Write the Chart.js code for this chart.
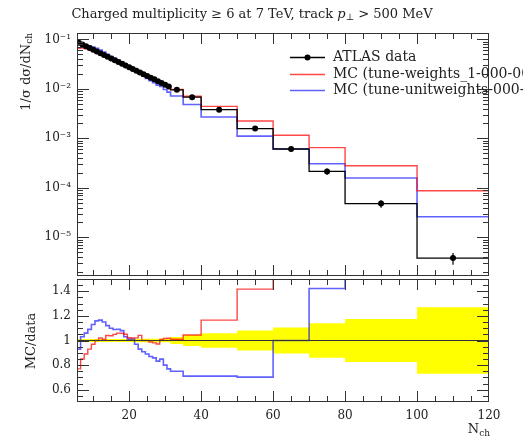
<!DOCTYPE html>
<html><head><meta charset="utf-8">
<script src="https://cdn.jsdelivr.net/npm/chart.js@4"></script>
<style>
html,body{margin:0;padding:0;background:#fff;width:523px;height:440px;overflow:hidden}
canvas{position:absolute;left:0}
#ca{top:0}
#cb{top:278px}
</style></head><body>
<canvas id="ca" width="523" height="280"></canvas>
<canvas id="cb" width="523" height="162"></canvas>
<script>
// ---- data ----
const binEdges = [5.5,6.5,7.5,8.5,9.5,10.5,11.5,12.5,13.5,14.5,15.5,16.5,17.5,18.5,19.5,20.5,21.5,22.5,23.5,24.5,25.5,26.5,27.5,28.5,29.5,30.5,31.5,35,40,50,60,70,80,100,120];
const atlasData = [0.0859,0.0792,0.0730,0.0673,0.0620,0.0571,0.0526,0.0485,0.0447,0.0412,0.0380,0.0350,0.0323,0.0298,0.0275,0.0253,0.0233,0.0215,0.0198,0.0183,0.0169,0.0156,0.0143,0.0132,0.0122,0.0112,0.0096,0.0068,0.0038,0.00158,0.00061,0.000215,0.000048,0.0000038];
const atlasRelErr = [0.012,0.012,0.012,0.012,0.012,0.012,0.012,0.012,0.012,0.012,0.012,0.012,0.012,0.012,0.012,0.015,0.015,0.015,0.015,0.015,0.015,0.015,0.015,0.015,0.015,0.015,0.028,0.045,0.058,0.082,0.105,0.14,0.175,0.27];
const mcWeights = [0.0661,0.0673,0.0650,0.0626,0.0601,0.0571,0.0537,0.0490,0.0465,0.0428,0.0399,0.0371,0.0342,0.0313,0.0281,0.0258,0.0238,0.0224,0.0198,0.0183,0.0167,0.0153,0.0139,0.0133,0.0124,0.0114,0.0097,0.0071,0.00443,0.00224,0.00116,0.00065,0.00028,0.000087];
const mcUnitWeights = [0.0799,0.0816,0.0774,0.0734,0.0701,0.0662,0.0613,0.0558,0.0501,0.0453,0.0414,0.0382,0.0349,0.0307,0.0278,0.0256,0.0226,0.0200,0.0180,0.0163,0.0147,0.0134,0.0119,0.0112,0.00976,0.00862,0.0072,0.00483,0.00270,0.00111,0.00061,0.000306,0.000158,0.000026];
const xTickLabels = [20,40,60,80,100,120];
const yMainTicks = [1e-5,1e-4,1e-3,1e-2,1e-1];
const yRatioTicks = [0.6,0.8,1,1.2,1.4];
const seriesNames = ['ATLAS data','MC (tune-weights_1-000-000)','MC (tune-unitweights-000-000)'];

// ---- helpers ----
const FONT = "'DejaVu Serif', 'Liberation Serif', serif";
const INK = '#222';
const RED = 'rgba(255,0,0,0.72)';
const BLUE = 'rgba(0,0,255,0.62)';
function stepPts(vals){
  const p = vals.map((v,i)=>({x:binEdges[i], y:v}));
  p.push({x:binEdges[binEdges.length-1], y:vals[vals.length-1]});
  return p;
}
const centers = atlasData.map((v,i)=>({x:(binEdges[i]+binEdges[i+1])/2, y:v}));
const sup = {'-':'\u207B','0':'\u2070','1':'\u00B9','2':'\u00B2','3':'\u00B3','4':'\u2074','5':'\u2075','6':'\u2076','7':'\u2077','8':'\u2078','9':'\u2079'};
function powLabel(v){ const e = Math.round(Math.log10(v)); return '10' + String(e).split('').map(c=>sup[c]).join(''); }
function noPad(s){ s.paddingTop=0; s.paddingBottom=0; s.paddingLeft=0; s.paddingRight=0; }

function xTickSets(){
  const maj=[], min=[];
  for(let v=10; v<120; v+=5){ (v%20===0?maj:min).push(v); }
  return {maj, min};
}
function drawFrameAndTicks(chart, yMaj, yMin, topTicks, bottomTicks){
  const ctx = chart.ctx, a = chart.chartArea, xs = chart.scales.x, ys = chart.scales.y;
  ctx.save();
  ctx.strokeStyle = '#333'; ctx.lineWidth = 1;
  ctx.strokeRect(a.left+0.5, a.top+0.5, a.right-a.left-1, a.bottom-a.top-1);
  ctx.beginPath();
  const {maj, min} = xTickSets();
  const xt = (v,len)=>{ const px = Math.round(xs.getPixelForValue(v))+0.5;
    if(topTicks){ctx.moveTo(px,a.top); ctx.lineTo(px,a.top+len);}
    if(bottomTicks){ctx.moveTo(px,a.bottom); ctx.lineTo(px,a.bottom-len);} };
  maj.forEach(v=>xt(v,11)); min.forEach(v=>xt(v,6));
  const yt = (v,len)=>{ const py = Math.round(ys.getPixelForValue(v))+0.5;
    if(py<a.top||py>a.bottom) return;
    ctx.moveTo(a.left,py); ctx.lineTo(a.left+len,py);
    ctx.moveTo(a.right,py); ctx.lineTo(a.right-len,py); };
  yMaj.forEach(v=>yt(v,12)); yMin.forEach(v=>yt(v,6));
  ctx.stroke();
  ctx.restore();
}

// ---- top panel ----
const topPlugin = {
  id:'topDecor',
  afterDatasetsDraw(chart){
    const ctx = chart.ctx, xs = chart.scales.x, ys = chart.scales.y;
    ctx.save(); ctx.strokeStyle='#000'; ctx.lineWidth=1.2; ctx.beginPath();
    atlasData.forEach((v,i)=>{
      const px = xs.getPixelForValue(centers[i].x);
      ctx.moveTo(px, ys.getPixelForValue(v*(1+atlasRelErr[i])));
      ctx.lineTo(px, ys.getPixelForValue(v*(1-atlasRelErr[i])));
    });
    ctx.stroke(); ctx.restore();
  },
  afterDraw(chart){
    const ctx = chart.ctx;
    const minor=[]; for(let d=-6; d<=-1; d++){ for(let k=2;k<=9;k++) minor.push(k*Math.pow(10,d)); }
    const major=[]; for(let d=-6; d<=-1; d++) major.push(Math.pow(10,d));
    drawFrameAndTicks(chart, major, minor, true, true);
    ctx.save();
    ctx.fillStyle = INK; ctx.textBaseline='middle';
    const parts = [['Charged multiplicity \u2265 6 at 7 TeV, track ', '13px '+FONT, 0],
                   ['p', 'italic 13px '+FONT, 0], ['\u22A5', '9px '+FONT, 3], [' > 500 MeV', '13px '+FONT, 0]];
    let w=0; parts.forEach(p=>{ctx.font=p[1]; w+=ctx.measureText(p[0]).width;});
    let x = 252 - w/2;
    parts.forEach(p=>{ctx.font=p[1]; ctx.textAlign='left'; ctx.fillText(p[0], x, 15+p[2]); x+=ctx.measureText(p[0]).width;});
    const ly=[57,74,90], cols=['#000',RED,BLUE];
    ly.forEach((y,i)=>{
      ctx.strokeStyle=cols[i]; ctx.lineWidth= i===0?1.3:1.5; ctx.beginPath(); ctx.moveTo(290,y+0.5); ctx.lineTo(325,y+0.5); ctx.stroke();
      ctx.font='14px '+FONT; ctx.fillStyle=INK; ctx.textAlign='left'; ctx.fillText(seriesNames[i], 333, y);
    });
    ctx.fillStyle='#000'; ctx.beginPath(); ctx.arc(307.5,57.5,3,0,Math.PI*2); ctx.fill();
    ctx.translate(27, 0); ctx.rotate(-Math.PI/2);
    ctx.font='13px '+FONT; const m1 = '1/\u03C3 d\u03C3/dN'; const w1=ctx.measureText(m1).width;
    ctx.font='9px '+FONT; const w2=ctx.measureText('ch').width;
    const x0 = -33 - w1 - w2;
    ctx.fillStyle=INK; ctx.font='13px '+FONT; ctx.fillText(m1, x0, 0);
    ctx.font='9px '+FONT; ctx.fillText('ch', x0+w1, 3);
    ctx.restore();
  }
};

new Chart(document.getElementById('ca'), {
  type:'line',
  data:{datasets:[
    {data:centers, showLine:false, pointRadius:3, pointBackgroundColor:'#000', pointBorderWidth:0, order:0},
    {data:stepPts(atlasData), stepped:true, borderColor:'#000', borderWidth:1.3, pointRadius:0, order:1},
    {data:stepPts(mcWeights), stepped:true, borderColor:RED, borderWidth:1.4, pointRadius:0, order:2},
    {data:stepPts(mcUnitWeights), stepped:true, borderColor:BLUE, borderWidth:1.6, pointRadius:0, order:3}
  ]},
  options:{
    responsive:false, animation:false, devicePixelRatio:1,
    layout:{padding:{left:0,right:34,top:33,bottom:1}},
    plugins:{legend:{display:false}, tooltip:{enabled:false}},
    scales:{
      x:{type:'linear', min:5.5, max:120, display:false, afterFit:noPad},
      y:{type:'logarithmic', min:1.65e-6, max:0.135,
        afterFit(s){s.width=77; noPad(s);},
        afterBuildTicks(s){s.ticks=yMainTicks.map(v=>({value:v}));},
        ticks:{callback:v=>powLabel(v), font:{family:FONT,size:12}, color:INK, padding:6, autoSkip:false},
        grid:{display:false, drawTicks:false}, border:{display:false}}
    }
  },
  plugins:[topPlugin]
});

// ---- ratio panel ----
const ratioRed = mcWeights.map((v,i)=>v/atlasData[i]);
const ratioBlue = mcUnitWeights.map((v,i)=>v/atlasData[i]);
const ones = atlasData.map(()=>1);
const bandHi = atlasRelErr.map(e=>1+e);
const bandLo = atlasRelErr.map(e=>1-e);

const botPlugin = {
  id:'botDecor',
  afterDraw(chart){
    const ctx = chart.ctx;
    const minor=[]; for(let v=0.55; v<1.5; v+=0.05){ const r=Math.round(v*100)/100; if(Math.round(r*100)%20!==0) minor.push(r); }
    drawFrameAndTicks(chart, yRatioTicks, minor, true, true);
    ctx.save(); ctx.fillStyle=INK; ctx.textBaseline='middle';
    ctx.font='9px '+FONT; const ws=ctx.measureText('ch').width;
    ctx.font='13px '+FONT; const wn=ctx.measureText('N').width;
    const xr = 490 - ws - wn;
    ctx.textAlign='left'; ctx.fillText('N', xr, 152);
    ctx.font='9px '+FONT; ctx.fillText('ch', xr+wn, 156);
    ctx.translate(32, 63); ctx.rotate(-Math.PI/2);
    ctx.font='13px '+FONT; ctx.textAlign='center'; ctx.fillText('MC/data', 0, 0);
    ctx.restore();
  }
};

new Chart(document.getElementById('cb'), {
  type:'line',
  data:{datasets:[
    {data:stepPts(ones), stepped:true, borderColor:'#333', borderWidth:1.2, pointRadius:0, order:1},
    {data:stepPts(ratioRed), stepped:true, borderColor:RED, borderWidth:1.4, pointRadius:0, order:2},
    {data:stepPts(ratioBlue), stepped:true, borderColor:BLUE, borderWidth:1.6, pointRadius:0, order:3},
    {data:stepPts(bandHi), stepped:true, borderWidth:0, pointRadius:0, fill:'+1', backgroundColor:'#ffff00', order:10},
    {data:stepPts(bandLo), stepped:true, borderWidth:0, pointRadius:0, fill:false, order:11}
  ]},
  options:{
    responsive:false, animation:false, devicePixelRatio:1,
    layout:{padding:{left:0,right:34,top:1,bottom:0}},
    plugins:{legend:{display:false}, tooltip:{enabled:false}},
    scales:{
      x:{type:'linear', min:5.5, max:120,
        afterFit(s){s.height=38; noPad(s);},
        afterBuildTicks(s){s.ticks=xTickLabels.map(v=>({value:v}));},
        ticks:{font:{family:FONT,size:12}, color:INK, padding:7, maxRotation:0, autoSkip:false},
        grid:{display:false, drawTicks:false}, border:{display:false}},
      y:{type:'linear', min:0.5, max:1.5,
        afterFit(s){s.width=77; noPad(s);},
        afterBuildTicks(s){s.ticks=yRatioTicks.map(v=>({value:v}));},
        ticks:{callback:v=>String(+v.toFixed(1)), font:{family:FONT,size:12}, color:INK, padding:6, autoSkip:false},
        grid:{display:false, drawTicks:false}, border:{display:false}}
    }
  },
  plugins:[botPlugin]
});
</script>
</body></html>
